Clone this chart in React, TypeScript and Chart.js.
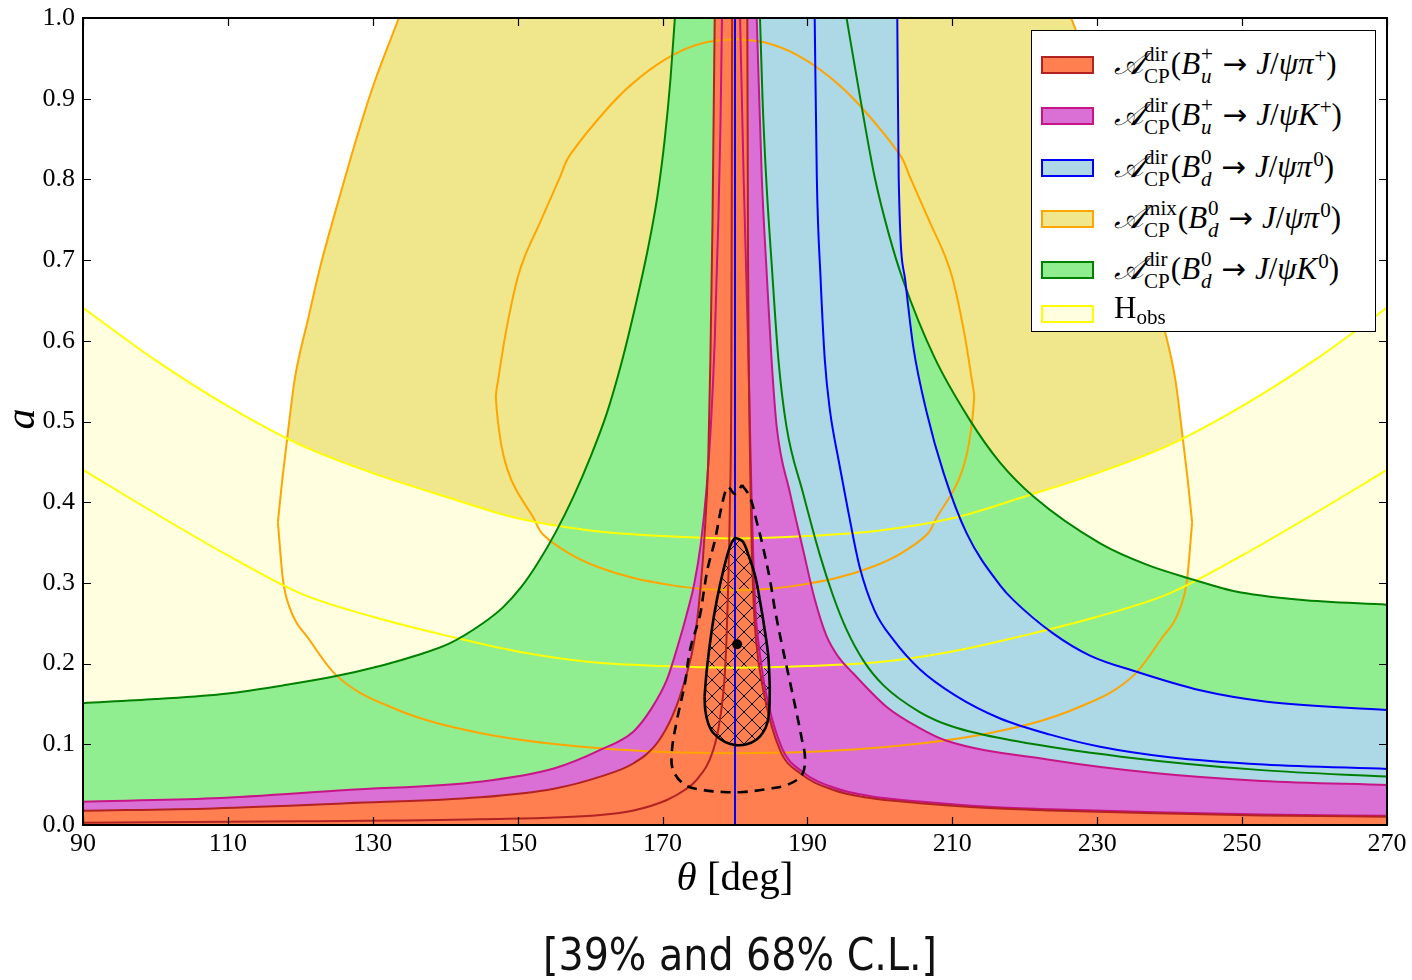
import React, { useEffect, useRef } from 'react';
import { Chart, registerables } from 'chart.js';

Chart.register(...registerables);

type Pt = [number, number];

// Axis ticks
const thetaTicks = [90, 110, 130, 150, 170, 190, 210, 230, 250, 270];
const aTicks = [0, 0.1, 0.2, 0.3, 0.4, 0.5, 0.6, 0.7, 0.8, 0.9, 1.0];

// H_obs: 68% upper edge (region below is allowed) and 39% contour
const hObs68: Pt[] = [
  [90, 0.641], [100, 0.576], [110, 0.519], [120, 0.471], [130, 0.436], [140, 0.407], [150, 0.38],
  [160, 0.365], [170, 0.358], [180, 0.355], [190, 0.358], [200, 0.365], [210, 0.38], [220, 0.407],
  [230, 0.436], [240, 0.471], [250, 0.519], [260, 0.576], [270, 0.641],
];
const hObs39: Pt[] = [
  [90, 0.44], [100, 0.386], [110, 0.334], [120, 0.287], [130, 0.258], [140, 0.235], [150, 0.215],
  [160, 0.202], [170, 0.197], [180, 0.195], [190, 0.197], [200, 0.202], [210, 0.215], [220, 0.235],
  [230, 0.258], [240, 0.287], [250, 0.334], [260, 0.386], [270, 0.44],
];

// A_CP^mix(B_d -> J/psi pi0): 68% region (upper and lower edges) and closed 39% contour
const mixPi0Upper68: Pt[] = [
  [116.9, 0.375], [117.5, 0.427], [118.2, 0.48], [119.2, 0.551], [121.1, 0.628], [122.7, 0.69],
  [125.5, 0.781], [128.2, 0.864], [130.1, 0.917], [133.6, 1.0], [142, 1.2], [218, 1.2], [226.4, 1.0],
  [229.9, 0.917], [231.8, 0.864], [234.5, 0.781], [237.3, 0.69], [238.9, 0.628], [240.8, 0.551],
  [241.8, 0.48], [242.5, 0.427], [243.1, 0.375],
];
const mixPi0Lower68: Pt[] = [
  [116.9, 0.375], [117.6, 0.304], [118.5, 0.27], [121.3, 0.229], [124.9, 0.186], [132.8, 0.145],
  [144.8, 0.114], [161.4, 0.095], [180, 0.089], [198.6, 0.095], [215.2, 0.114], [227.2, 0.145],
  [235.1, 0.186], [238.7, 0.229], [241.5, 0.27], [242.4, 0.304], [243.1, 0.375],
];
const mixPi039: Pt[] = [
  [180, 0.974], [175.6, 0.969], [171.4, 0.954], [166.8, 0.926], [162.7, 0.891], [157.2, 0.83],
  [155.8, 0.802], [153.0, 0.745], [151.0, 0.705], [149.9, 0.675], [148.4, 0.612], [147.3, 0.551],
  [147.0, 0.529], [147.7, 0.473], [148.6, 0.44], [149.8, 0.415], [152.1, 0.382], [153.5, 0.36],
  [157.2, 0.336], [161.0, 0.32], [166.0, 0.306], [172.0, 0.296], [176.1, 0.292], [180, 0.291],
  [183.9, 0.292], [188.0, 0.296], [194.0, 0.306], [199.0, 0.32], [202.8, 0.336], [206.5, 0.36],
  [207.9, 0.382], [210.2, 0.415], [211.4, 0.44], [212.3, 0.473], [213.0, 0.529], [212.7, 0.551],
  [211.6, 0.612], [210.1, 0.675], [209.0, 0.705], [207.0, 0.745], [204.2, 0.802], [202.8, 0.83],
  [197.3, 0.891], [193.2, 0.926], [188.6, 0.954], [184.4, 0.969], [180, 0.974],
];

// A_CP^dir(B_d -> J/psi K0): 68% upper edge and 39% contour
const k0Dir68: Pt[] = [
  [90, 0.151], [100, 0.156], [110, 0.163], [117.6, 0.173], [124.1, 0.183], [131.4, 0.198], [136, 0.21],
  [140.6, 0.225], [145.2, 0.25], [148, 0.27], [150.5, 0.295], [152.8, 0.325], [155.2, 0.362],
  [157.7, 0.407], [160.0, 0.455], [162.3, 0.51], [164.4, 0.575], [166.3, 0.645], [168.0, 0.715],
  [169.3, 0.78], [170.3, 0.85], [171.1, 0.925], [171.7, 1.0], [173.3, 1.2], [191.6, 1.2], [195.4, 1.0],
  [197.3, 0.9], [199.3, 0.802], [201.3, 0.73], [203.2, 0.675], [207.5, 0.58], [212.4, 0.502],
  [216.5, 0.45], [221.2, 0.407], [230.4, 0.349], [237.0, 0.322], [243.3, 0.304], [248.8, 0.29],
  [258.0, 0.279], [270, 0.273],
];
const k0Dir39: Pt[] = [
  [183.45, 1.0], [183.8, 0.9], [184.3, 0.802], [185.1, 0.69], [186.0, 0.576], [187.1, 0.494],
  [189.4, 0.411], [191.7, 0.335], [193.5, 0.285], [195.4, 0.242], [197.7, 0.204], [200.5, 0.173],
  [205.5, 0.14], [210, 0.122], [218.75, 0.104], [233.3, 0.0847], [252.7, 0.068], [270, 0.06],
];

// A_CP^dir(B_d -> J/psi pi0): 68% upper edge (right of 180 deg), 39% contour, edge at 180 deg
const pi0Dir68: Pt[] = [
  [180, 1.2], [202.2, 1.2], [202.4, 1.0], [202.6, 0.8], [203.5, 0.675], [204.6, 0.593], [206.5, 0.51],
  [208.8, 0.436], [212.0, 0.361], [216.6, 0.297], [218.4, 0.279], [223.9, 0.2375], [229.0, 0.21],
  [235.4, 0.19], [244.2, 0.167], [253.4, 0.1528], [270, 0.1425],
];
const pi0Dir39: Pt[] = [
  [191.0, 1.0], [191.3, 0.8], [191.8, 0.68], [192.4, 0.576], [193.1, 0.514], [194.3, 0.452],
  [195.6, 0.39], [197.2, 0.32], [199.3, 0.265], [201.9, 0.229], [205.5, 0.193], [210.5, 0.16],
  [216.6, 0.132], [223.5, 0.112], [230.4, 0.097], [240, 0.084], [253, 0.075], [270, 0.0695],
];
const pi0DirEdge: Pt[] = [[180, 0], [180, 1.0]];

// A_CP^dir(B_u -> J/psi K+): 68% upper edge and 39% contour
const kpDir68: Pt[] = [
  [90, 0.0289], [108, 0.033], [126.4, 0.0434], [144.8, 0.0537], [155, 0.07], [161.4, 0.093],
  [166.0, 0.116], [168.3, 0.142], [170.6, 0.18], [172.2, 0.225], [173.3, 0.26], [174.4, 0.3],
  [175.3, 0.35], [176.1, 0.42], [176.7, 0.5], [177.2, 0.6], [177.7, 0.75], [178.0, 0.87], [178.2, 1.0],
  [178.5, 1.2], [182.3, 1.2], [183.0, 1.0], [183.7, 0.802], [184.4, 0.68], [185.05, 0.576],
  [185.75, 0.494], [187.6, 0.411], [189.4, 0.341], [191.0, 0.28], [192.6, 0.235], [194.3, 0.208],
  [196.3, 0.188], [200.9, 0.1466], [205.5, 0.12], [209, 0.105], [223.6, 0.0805], [238.2, 0.064],
  [252.7, 0.0545], [270, 0.0496],
];
const kpDir39: Pt[] = [
  [180.7, 1.0], [181.2, 0.8], [181.8, 0.6], [182.3, 0.4], [182.8, 0.27], [183.2, 0.229], [184.2, 0.167],
  [186.5, 0.095], [189.3, 0.066], [193.9, 0.0455], [198.5, 0.036], [205.5, 0.029], [215, 0.0225],
  [223.6, 0.0196], [238.2, 0.0158], [252.7, 0.013], [270, 0.0115],
];

// A_CP^dir(B_u -> J/psi pi+): 68% upper edge and 39% contour
const pipDir68: Pt[] = [
  [90, 0.0177], [108, 0.0206], [126.4, 0.0269], [144.8, 0.0343], [155, 0.045], [161.4, 0.06],
  [166.0, 0.0765], [169.2, 0.101], [171.5, 0.138], [173.1, 0.18], [174.4, 0.229], [175.2, 0.29],
  [175.8, 0.36], [176.3, 0.45], [176.6, 0.576], [176.9, 0.75], [177.2, 1.0], [177.4, 1.2], [181.6, 1.2],
  [181.7, 1.0], [181.8, 0.7], [181.9, 0.576], [182.3, 0.35], [182.6, 0.27], [182.9, 0.229],
  [183.9, 0.167], [186.2, 0.093], [189.0, 0.064], [193.6, 0.0434], [198.2, 0.034], [205.5, 0.027],
  [215, 0.021], [223.6, 0.018], [238.2, 0.0145], [252.7, 0.0118], [270, 0.0103],
];
const pipDir39: Pt[] = [
  [90, 0.0029], [120, 0.0045], [144.8, 0.007], [161.4, 0.0124], [166, 0.018], [170.6, 0.031],
  [173, 0.043], [174.7, 0.0558], [177.0, 0.093], [177.9, 0.13], [178.6, 0.188], [178.9, 0.25],
  [179.3, 0.4], [179.5, 0.576], [179.6, 1.0],
];

// Combined fit: 39% contour (upper / lower halves), 68% contour, best-fit point
const combined39Upper: Pt[] = [
  [175.8, 0.159], [176.1, 0.192], [176.8, 0.242], [177.5, 0.279], [178.4, 0.316], [179.3, 0.345],
  [179.9, 0.355], [180.3, 0.355], [181.1, 0.351], [181.8, 0.336], [182.8, 0.308], [183.5, 0.275],
  [184.1, 0.242], [184.6, 0.209], [184.8, 0.171],
];
const combined39Lower: Pt[] = [
  [175.8, 0.159], [175.9, 0.142], [176.3, 0.126], [177.0, 0.114], [178.6, 0.103], [180.1, 0.099],
  [181.6, 0.1], [183.0, 0.106], [183.9, 0.115], [184.5, 0.128], [184.75, 0.146], [184.8, 0.171],
];
const combined68: Pt[] = [
  [180.97, 0.4213], [182.07, 0.4064], [183.04, 0.3742], [183.87, 0.3445], [184.83, 0.3036],
  [185.52, 0.2664], [186.49, 0.223], [187.59, 0.1772], [188.56, 0.1363], [189.25, 0.1053],
  [189.66, 0.0843], [189.25, 0.062], [187.18, 0.0496], [184.42, 0.0446], [181.1, 0.0409],
  [178.34, 0.0409], [175.58, 0.0434], [173.1, 0.0496], [171.44, 0.0682], [171.3, 0.0929],
  [171.99, 0.1301], [173.1, 0.176], [173.79, 0.2169], [175.17, 0.2602], [175.72, 0.2912],
  [176.27, 0.3197], [177.24, 0.3532], [178.2, 0.3965], [179.03, 0.4188], [180.0, 0.41],
  [180.97, 0.4213],
];
const bestFit: Pt[] = [[180.3, 0.224]];

const CORAL = '#FF7F50';
const FIREBRICK = '#B22222';
const ORCHID = '#DA70D6';
const VIOLETRED = '#C71585';
const LIGHTBLUE = '#ADD8E6';
const BLUE = '#0000FF';
const LIGHTGREEN = '#90EE90';
const GREEN = '#008000';
const LIGHTYELLOW = '#FFFFE0';
const YELLOW = '#FFFF00';
const KHAKI = '#F0E68C';
const ORANGE = '#FFA500';

const SERIF = "'Liberation Serif', 'DejaVu Serif', serif";

const toXY = (pts: Pt[]) => pts.map(([x, y]) => ({ x, y }));

// Filled region below an edge curve (x increasing), smoothed without overshoot
function band(pts: Pt[], fillColor: string, edge: string, fill: any = 'origin') {
  return {
    data: toXY(pts), backgroundColor: fillColor, borderColor: edge, borderWidth: 2, fill,
    pointRadius: 0, cubicInterpolationMode: 'monotone',
  };
}

// Plain contour line (x increasing)
function curve(pts: Pt[], edge: string, width = 2, dash: number[] = []) {
  return {
    data: toXY(pts), borderColor: edge, borderWidth: width, borderDash: dash, fill: false,
    pointRadius: 0, cubicInterpolationMode: 'monotone',
  };
}

// Closed or strongly bent contour drawn in point order with a parametric spline
function loop(pts: Pt[], edge: string, width = 2, dash: number[] = []) {
  return {
    data: toXY(pts), borderColor: edge, borderWidth: width, borderDash: dash, fill: false,
    pointRadius: 0, tension: 0.35,
  };
}

function makeHatch(): CanvasPattern | string {
  const tile = document.createElement('canvas');
  tile.width = 16;
  tile.height = 16;
  const t = tile.getContext('2d');
  if (!t) return 'rgba(0,0,0,0)';
  t.strokeStyle = '#000';
  t.lineWidth = 1;
  t.beginPath();
  t.moveTo(-2, -2); t.lineTo(18, 18);
  t.moveTo(18, -2); t.lineTo(-2, 18);
  t.stroke();
  const p = t.createPattern(tile, 'repeat');
  return p || 'rgba(0,0,0,0)';
}

// Inward tick marks on all four sides plus the frame
const frameTicks = {
  id: 'frameTicks',
  afterDatasetsDraw(chart: any) {
    const { ctx, chartArea } = chart;
    const { left, right, top, bottom } = chartArea;
    const xs = chart.scales.x;
    const ys = chart.scales.y;
    ctx.save();
    ctx.strokeStyle = '#000';
    ctx.lineWidth = 1.2;
    ctx.beginPath();
    for (const t of xs.ticks) {
      const px = Math.round(xs.getPixelForValue(t.value)) + 0.5;
      ctx.moveTo(px, bottom); ctx.lineTo(px, bottom - 8);
      ctx.moveTo(px, top); ctx.lineTo(px, top + 8);
    }
    for (const t of ys.ticks) {
      const py = Math.round(ys.getPixelForValue(t.value)) + 0.5;
      ctx.moveTo(left, py); ctx.lineTo(left + 8, py);
      ctx.moveTo(right, py); ctx.lineTo(right - 8, py);
    }
    ctx.stroke();
    ctx.lineWidth = 2;
    ctx.strokeRect(left, top, right - left, bottom - top);
    ctx.restore();
  },
};

function Stack({ sup, sub }: { sup: React.ReactNode; sub: React.ReactNode }) {
  return (
    <span style={{ display: 'inline-block', verticalAlign: '-0.44em', fontSize: '0.68em', lineHeight: '1.02em', margin: '0 1px' }}>
      <span style={{ display: 'block' }}>{sup}</span>
      <span style={{ display: 'block' }}>{sub}</span>
    </span>
  );
}

const Sup = ({ children }: { children: React.ReactNode }) => (
  <span style={{ fontSize: '0.68em', verticalAlign: '0.5em', marginLeft: 1 }}>{children}</span>
);

const CalA = () => <span style={{ fontStyle: 'italic' }}>𝒜</span>;

const Arrow = () => (
  <span style={{ fontFamily: "'DejaVu Sans', sans-serif", fontSize: '0.95em', margin: '0 0.3em' }}>{'\u2192'}</span>
);

function Decay({ kind, b, bsub, final, fsup }: { kind: string; b: string; bsub: string; final: React.ReactNode; fsup: string }) {
  return (
    <span>
      <CalA />
      <Stack sup={kind} sub="CP" />
      (<i>B</i>
      <Stack sup={b} sub={<i>{bsub}</i>} />
      <Arrow />
      <i>J</i>/<i>ψ</i>{final}
      <Sup>{fsup}</Sup>)
    </span>
  );
}

const legendRows = [
  { fill: CORAL, edge: FIREBRICK, label: <Decay kind="dir" b="+" bsub="u" final={<i>π</i>} fsup="+" />, y: 34, dy: -31 },
  { fill: ORCHID, edge: VIOLETRED, label: <Decay kind="dir" b="+" bsub="u" final={<i>K</i>} fsup="+" />, y: 85, dy: -31 },
  { fill: LIGHTBLUE, edge: BLUE, label: <Decay kind="dir" b="0" bsub="d" final={<i>π</i>} fsup="0" />, y: 137, dy: -31 },
  { fill: KHAKI, edge: ORANGE, label: <Decay kind="mix" b="0" bsub="d" final={<i>π</i>} fsup="0" />, y: 188, dy: -31 },
  { fill: LIGHTGREEN, edge: GREEN, label: <Decay kind="dir" b="0" bsub="d" final={<i>K</i>} fsup="0" />, y: 239, dy: -31 },
  { fill: LIGHTYELLOW, edge: YELLOW, label: <span>H<span style={{ fontSize: '0.68em', verticalAlign: '-0.3em' }}>obs</span></span>, y: 283, dy: -28 },
];

export default function App() {
  const canvasRef = useRef<HTMLCanvasElement>(null);

  useEffect(() => {
    const canvas = canvasRef.current;
    if (!canvas) return;
    const hatch = makeHatch();
    const datasets: any[] = [
      { data: toXY(bestFit), showLine: false, pointRadius: 5, pointBackgroundColor: '#000', pointBorderColor: '#000', borderWidth: 0, fill: false },
      { ...loop(combined39Upper, '#000', 2.6), fill: '+1', backgroundColor: hatch },
      loop(combined39Lower, '#000', 2.6),
      loop(combined68, '#000', 2.6, [10, 7]),
      band(pipDir68, CORAL, FIREBRICK),
      curve(pipDir39, FIREBRICK),
      curve(kpDir39, VIOLETRED),
      band(kpDir68, ORCHID, VIOLETRED),
      curve(pi0DirEdge, BLUE),
      curve(pi0Dir39, BLUE),
      band(pi0Dir68, LIGHTBLUE, BLUE),
      curve(k0Dir39, GREEN),
      band(k0Dir68, LIGHTGREEN, GREEN),
      curve(hObs39, YELLOW),
      band(hObs68, LIGHTYELLOW, YELLOW),
      loop(mixPi039, ORANGE),
      band(mixPi0Upper68, KHAKI, ORANGE, '+1'),
      curve(mixPi0Lower68, ORANGE),
    ];

    const chart = new Chart(canvas, {
      type: 'line',
      data: { datasets },
      options: {
        animation: false,
        responsive: false,
        maintainAspectRatio: false,
        devicePixelRatio: 1,
        events: [],
        layout: { padding: { left: 0, right: 25, top: 18, bottom: 0 } },
        elements: { line: { tension: 0 }, point: { radius: 0 } },
        plugins: {
          legend: { display: false },
          tooltip: { enabled: false },
          filler: { drawTime: 'beforeDatasetsDraw' },
        },
        scales: {
          x: {
            type: 'linear',
            min: 90,
            max: 270,
            afterBuildTicks: (s: any) => { s.ticks = thetaTicks.map((v) => ({ value: v })); },
            afterFit: (s: any) => { s.height = 155; s.paddingLeft = 0; s.paddingRight = 0; },
            grid: { display: false, drawTicks: false },
            border: { display: false },
            ticks: {
              autoSkip: false,
              maxRotation: 0,
              padding: 4,
              color: '#000',
              font: { family: SERIF, size: 26 },
              callback: (v: any) => String(v),
            },
          },
          y: {
            type: 'linear',
            min: 0,
            max: 1,
            afterBuildTicks: (s: any) => { s.ticks = aTicks.map((v) => ({ value: v })); },
            afterFit: (s: any) => { s.width = 83; s.paddingTop = 0; s.paddingBottom = 0; },
            grid: { display: false, drawTicks: false },
            border: { display: false },
            ticks: {
              autoSkip: false,
              padding: 8,
              color: '#000',
              font: { family: SERIF, size: 26 },
              callback: (v: any) => Number(v).toFixed(1),
            },
          },
        },
      } as any,
      plugins: [frameTicks],
    });
    return () => chart.destroy();
  }, []);

  return (
    <div style={{ position: 'fixed', left: 0, top: 0, width: 1412, height: 980, background: '#fff', overflow: 'hidden' }}>
      <canvas ref={canvasRef} width={1412} height={980} style={{ position: 'absolute', left: 0, top: 0, width: 1412, height: 980 }} />

      {/* legend */}
      <div style={{ position: 'absolute', left: 1031, top: 30, width: 345, height: 302, border: '1.5px solid #000', background: '#fff', boxSizing: 'border-box', fontFamily: SERIF, fontSize: 31, color: '#000' }}>
        {legendRows.map((r, i) => (
          <div key={i}>
            <span style={{ position: 'absolute', left: 9, top: r.y - 9, width: 53, height: 18, background: r.fill, border: `2px solid ${r.edge}`, boxSizing: 'border-box' }} />
            <span style={{ position: 'absolute', left: 82, top: r.y + r.dy, lineHeight: '44px', whiteSpace: 'nowrap' }}>{r.label}</span>
          </div>
        ))}
      </div>

      {/* axis titles */}
      <div style={{ position: 'absolute', left: 83, width: 1304, top: 851, textAlign: 'center', fontFamily: SERIF, fontSize: 41, lineHeight: '50px', color: '#000' }}>
        <i>θ</i> [deg]
      </div>
      <div style={{ position: 'absolute', left: -5, top: 394, width: 50, height: 50, display: 'flex', alignItems: 'center', justifyContent: 'center', transform: 'rotate(-90deg)', fontFamily: SERIF, fontSize: 42, fontStyle: 'italic', color: '#000' }}>
        a
      </div>

      {/* caption */}
      <div style={{ position: 'absolute', left: 0, width: 1480, top: 927, textAlign: 'center', fontFamily: "'DejaVu Sans Condensed', 'DejaVu Sans', sans-serif", fontStretch: 'condensed', fontSize: 44, lineHeight: '56px', color: '#111' }}>
        [39% and 68% C.L.]
      </div>
    </div>
  );
}
